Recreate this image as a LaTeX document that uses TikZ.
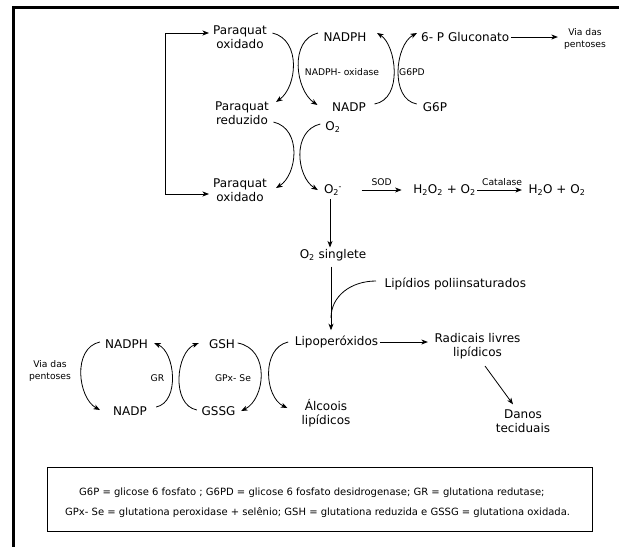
\documentclass[tikz,border=0pt]{standalone}
\usepackage{fontspec}
\setmainfont{DejaVu Sans}
\usetikzlibrary{arrows.meta}
\newcommand\sbs[1]{\textsubscript{#1}}
\newcommand\omin{O\textsubscript{2}\kern-0.5pt\textsuperscript{-}}
\begin{document}
\begin{tikzpicture}[x=1pt,y=1pt,
  lbl/.style={font=\fontsize{12}{14}\selectfont, inner sep=1.5pt, align=center},
  sm/.style={font=\fontsize{9.2}{11.5}\selectfont, inner sep=1pt, align=center},
  leg/.style={font=\fontsize{10}{12}\selectfont, inner sep=0pt, anchor=west},
  arr/.style={-{Stealth[length=6.5pt,width=5pt,inset=1.8pt]}, line width=0.8pt},
  arrb/.style={{Stealth[length=6.5pt,width=5pt,inset=1.8pt]}-{Stealth[length=6.5pt,width=5pt,inset=1.8pt]}, line width=0.8pt},
  ln/.style={line width=0.8pt}]
\useasboundingbox (0,0) rectangle (619,-547);
\draw[line width=3pt] (619,-7.5) -- (13,-7.5) -- (13,-547);
% upper nodes
\node[lbl] (pq1) at (240,-37) {Paraquat\\oxidado};
\node[lbl] (pq2) at (242,-113) {Paraquat\\reduzido};
\node[lbl] (pq3) at (240,-190) {Paraquat\\oxidado};
\node[lbl] (nadph1) at (345,-37) {NADPH};
\node[lbl] (nadp1) at (349,-107) {NADP};
\node[sm] (nox) at (342,-72) {NADPH- oxidase};
\node[sm] (g6pd) at (412,-72) {G6PD};
\node[lbl] (g6p) at (435,-107) {G6P};
\node[lbl,anchor=west] (gluc) at (419.5,-37) {6- P Gluconato};
\node[sm] (via1) at (585,-39) {Via das\\pentoses};
\node[lbl] (o2a) at (333,-127) {O\sbs{2}};
\node[lbl] (o2m) at (333,-190) {\omin};
\node[lbl] (h2o2) at (444.5,-190) {H\sbs{2}O\sbs{2} + O\sbs{2}};
\node[lbl] (h2o) at (557,-190) {H\sbs{2}O + O\sbs{2}};
\node[lbl] (singlete) at (333,-255) {O\sbs{2} singlete};
\node[lbl,anchor=west] (lipid) at (383,-284) {Lipídios poliinsaturados};
\node[lbl] (lipo) at (336.5,-342) {Lipoperóxidos};
\node[lbl] (radic) at (477.5,-346.5) {Radicais livres\\lipídicos};
\node[lbl] (danos) at (523,-421.5) {Danos\\teciduais};
\node[lbl] (alc) at (326,-413) {Álcoois\\lipídicos};
% lower cycle nodes
\node[lbl] (nadph2) at (126.5,-344) {NADPH};
\node[lbl] (nadp2) at (130,-411) {NADP};
\node[lbl] (gsh) at (222,-344) {GSH};
\node[lbl] (gssg) at (218.5,-411) {GSSG};
\node[sm] (via2) at (50,-371) {Via das\\pentoses};
\node[sm] (gr) at (157.5,-378) {GR};
\node[sm] (gpx) at (233,-378) {GPx- Se};
\coordinate (vx) at (330,0);
\coordinate (vy) at (331,0);
\coordinate (j) at (331,-318);
% left bracket
\draw[arrb] ([shift={(-2.5,-4)}]pq3.west) -- ++(-44,0) |- ([shift={(-2.5,4)}]pq1.west);
% upper curves
\draw[arr] ([shift={(4,4)}]pq1.east) .. controls +(29,-7) and +(21,15) .. ([shift={(5.5,11)}]pq2.east);
\draw[arr] ([shift={(3,-9)}]pq2.east) .. controls +(29,-7) and +(21,13) .. ([shift={(7.5,2)}]pq3.east);
\draw[arr] ([shift={(-4,4)}]nadph1.west) .. controls +(-29,-7) and +(-22,15) .. ([shift={(-13,2)}]nadp1.west);
\draw[arr] ([shift={(7,3)}]nadp1.east) .. controls +(29,5) and +(19,-12) .. ([shift={(9,4)}]nadph1.east);
\draw[arr] ([shift={(-4.5,3)}]g6p.west) .. controls +(-27,5) and +(-22,-12) .. ([shift={(-2.5,4)}]gluc.west);
\draw[arr, shorten >=5pt] (gluc.east) -- (gluc.east -| via1.west);
\draw[arr] ([shift={(-3.5,3)}]o2a.west) .. controls +(-29,-7) and +(-21,13) .. ([shift={(-4.5,0)}]o2m.west);
\draw[arr] ([xshift=18]o2m.east) -- ([xshift=-10]h2o2.west) node[sm,midway,above=3pt] {SOD};
\draw[arr, shorten >=5pt] (h2o2.east) -- (h2o.west) node[sm,midway,above=3pt] {Catalase};
\draw[arr, shorten <=2pt] (o2m.south -| vx) -- (singlete.north -| vx);
\draw[arr, shorten <=4pt, shorten >=4pt] (singlete.south -| vy) -- (lipo.north -| vy);
\draw[ln] ([shift={(-7,3)}]lipid.west) .. controls +(-25,0) and +(0,22) .. (j);
\draw[arr, shorten >=5pt] (lipo.east) -- (lipo.east -| radic.west);
\draw[arr] ([shift={(7.5,-5)}]radic.south) -- ([shift={(-10,4)}]danos.north);
\draw[arr] ([shift={(-5,0)}]lipo.west) .. controls +(-27,-6) and +(-23,11) .. ([shift={(-12.5,5)}]alc.west);
% lower curves
\draw[arr] ([shift={(-3.5,2)}]nadph2.west) .. controls +(-28,-6) and +(-22,12) .. ([shift={(-11.5,1)}]nadp2.west);
\draw[arr] ([shift={(7.6,4)}]nadp2.east) .. controls +(24,5) and +(21,-9) .. ([shift={(4.6,1)}]nadph2.east);
\draw[arr] ([shift={(-3,1)}]gssg.west) .. controls +(-26,5) and +(-23,-9) .. ([shift={(-8.5,1)}]gsh.west);
\draw[arr] ([shift={(1,1)}]gsh.east) .. controls +(33,-6) and +(24,12) .. ([shift={(4,0)}]gssg.east);
% legend
\node[draw, line width=1pt, minimum width=545pt, minimum height=64pt, inner sep=0pt] (legbox) at (319.5,-499) {};
\node[leg] (leg1) at (79,-493) {G6P = glicose 6 fosfato ; G6PD = glicose 6 fosfato desidrogenase; GR = glutationa redutase;};
\node[leg] (leg2) at (65,-513) {GPx- Se = glutationa peroxidase + selênio; GSH = glutationa reduzida e GSSG = glutationa oxidada.};
\end{tikzpicture}
\end{document}
